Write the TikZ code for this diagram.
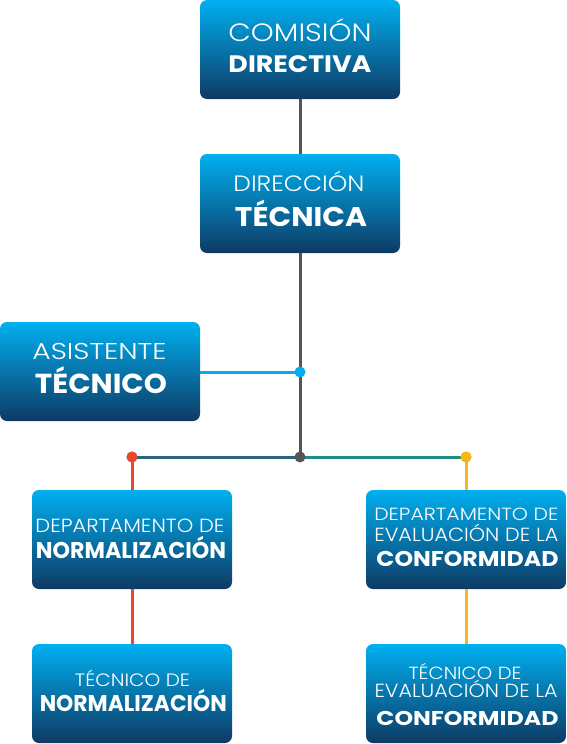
\documentclass[tikz,border=0pt]{standalone}
\usepackage{fontspec}
\usepackage{graphicx}
\setmainfont{Poppins}
\newfontfamily\lightf{Poppins Light}
\definecolor{boxtop}{RGB}{0,176,240}
\definecolor{boxmid}{RGB}{0,136,204}
\definecolor{boxbot}{RGB}{14,58,100}
\definecolor{lgray}{RGB}{85,85,85}
\definecolor{lblue}{RGB}{0,174,239}
\definecolor{lred}{RGB}{232,72,44}
\definecolor{lyellow}{RGB}{250,182,20}
\definecolor{ldteal}{RGB}{46,100,122}
\definecolor{lteal}{RGB}{34,140,134}
\newcommand\ltx[3]{\resizebox{#1pt}{#2pt}{\lightf\vphantom{X}\smash{#3}}}
\newcommand\bdx[3]{\resizebox{#1pt}{#2pt}{\bfseries\vphantom{X}\smash{#3}}}
\begin{document}
\begin{tikzpicture}[x=1pt,y=-1pt,
  orgbox/.style={rectangle, rounded corners=7pt, minimum width=200pt, minimum height=99pt, inner sep=0pt,
    top color=boxtop, middle color=boxmid, bottom color=boxbot},
  txt/.style={anchor=base, text=white, inner sep=0pt},
  conn/.style={line width=3pt},
  dot/.style={circle, inner sep=0pt, minimum size=11pt}]
\useasboundingbox (0,0) rectangle (566,744);
% boxes
\node[orgbox] (cd) at (300,49.5) {};
\node[orgbox] (dt) at (300,203.5) {};
\node[orgbox] (at) at (100,371.5) {};
\node[orgbox] (dn) at (132,539.5) {};
\node[orgbox] (de) at (466,539.5) {};
\node[orgbox] (tn) at (132,693.5) {};
\node[orgbox] (te) at (466,693.5) {};
% junction coordinates
\coordinate (junc) at (300,457);
\coordinate (bjunc) at (300,372);
% connectors
\draw[conn, lgray] (cd.south) -- (dt.north);
\draw[conn, lgray] (dt.south) -- (junc);
\draw[conn, lblue] (at.east |- bjunc) -- (bjunc);
\node[dot, fill=lred] (rdot) at (132,457) {};
\node[dot, fill=lyellow] (ydot) at (466,457) {};
\draw[conn, ldteal] (rdot.center) -- (junc);
\draw[conn, lteal] (junc) -- (ydot.center);
\draw[conn, lred] (rdot.center) -- (dn.north);
\draw[conn, lred] (dn.south) -- (tn.north);
\draw[conn, lyellow] (ydot.center) -- (de.north);
\draw[conn, lyellow] (de.south) -- (te.north);
\node[dot, fill=lred] at (rdot) {};
\node[dot, fill=lyellow] at (ydot) {};
\node[dot, fill=lblue] (bdot) at (bjunc) {};
\node[dot, fill=lgray] (gdot) at (junc) {};
% texts
\node[txt] (cd1) at (300,41.7) {\ltx{143}{17.5}{COMISIÓN}};
\node[txt] (cd2) at (300,72) {\bdx{143}{16.7}{DIRECTIVA}};
\node[txt] (dt1) at (299,191) {\ltx{131}{15.5}{DIRECCIÓN}};
\node[txt] (dt2) at (301,226) {\bdx{132}{19}{TÉCNICA}};
\node[txt] (at1) at (99.5,359.3) {\ltx{134}{16}{ASISTENTE}};
\node[txt] (at2) at (101,393) {\bdx{132}{19.3}{TÉCNICO}};
\node[txt] (dn1) at (130,532.3) {\ltx{189}{13.3}{DEPARTAMENTO DE}};
\node[txt] (dn2) at (131,558) {\bdx{190}{16}{NORMALIZACIÓN}};
\node[txt] (de1) at (466.3,520.7) {\ltx{184}{12.3}{DEPARTAMENTO DE}};
\node[txt] (de2) at (466.3,541.7) {\ltx{184}{13.3}{EVALUACIÓN DE LA}};
\node[txt] (de3) at (467.5,566.7) {\bdx{182}{15}{CONFORMIDAD}};
\node[txt] (tn1) at (132.5,686) {\ltx{115}{12.5}{TÉCNICO DE}};
\node[txt] (tn2) at (133.3,711.7) {\bdx{187}{16}{NORMALIZACIÓN}};
\node[txt] (te1) at (465,679) {\ltx{113}{12.3}{TÉCNICO DE}};
\node[txt] (te2) at (466,697.7) {\ltx{183}{13.3}{EVALUACIÓN DE LA}};
\node[txt] (te3) at (467.5,725) {\bdx{182}{14}{CONFORMIDAD}};
\end{tikzpicture}
\end{document}
